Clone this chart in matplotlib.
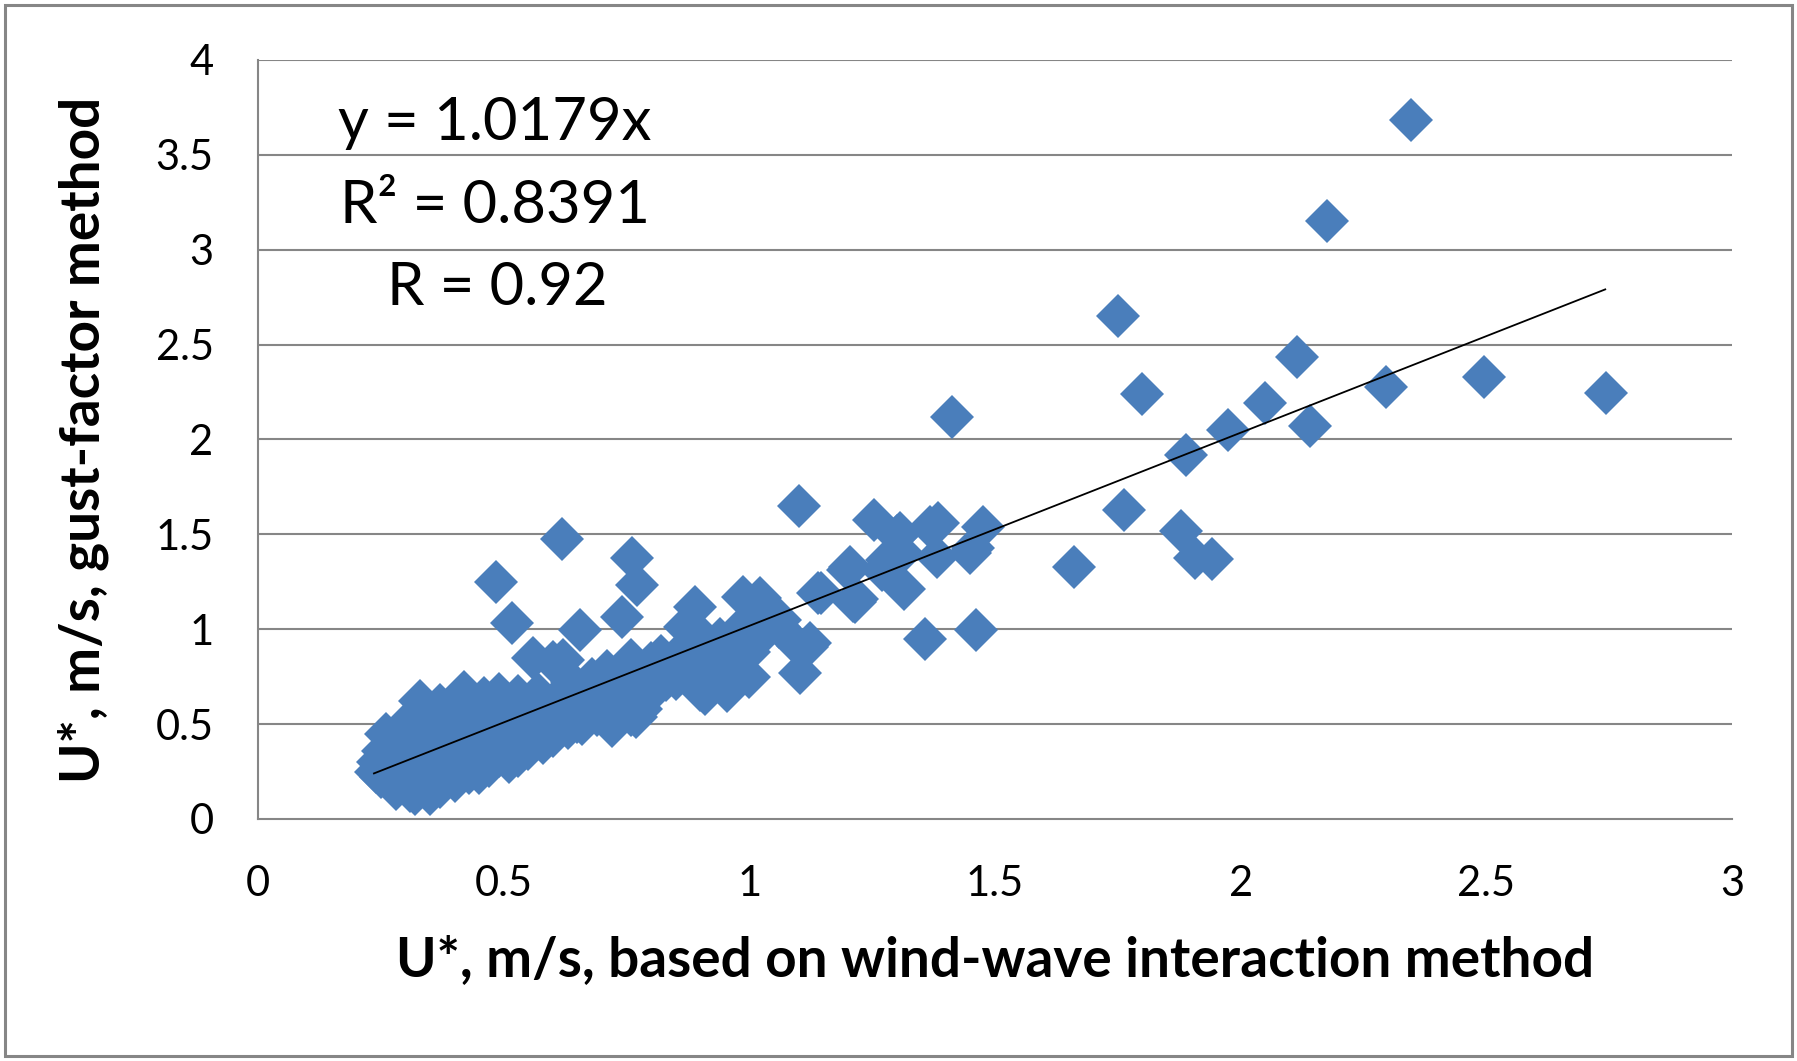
import matplotlib
matplotlib.use("Agg")
import matplotlib.pyplot as plt
from matplotlib.patches import Rectangle

plt.rcParams['font.family'] = ['Lato', 'DejaVu Sans']

# ---- data: U* wind-wave method (x) vs gust-factor method (y) ----
x_sparse = [2.346, 2.176, 1.751, 2.115, 2.295, 2.496, 2.743, 1.800, 2.050, 1.975,
            2.141, 1.889, 1.413, 1.763, 1.879, 1.907, 1.942, 1.660, 1.462, 1.357,
            1.102, 1.476, 1.455]
y_sparse = [3.686, 3.149, 2.649, 2.437, 2.275, 2.329, 2.244, 2.238, 2.190, 2.051,
            2.069, 1.918, 2.118, 1.629, 1.520, 1.376, 1.370, 1.327, 0.995, 0.947,
            1.647, 1.538, 1.430]

x_mid = [1.20, 1.205, 1.21, 1.22, 1.253, 1.27, 1.28, 1.30, 1.307, 1.31, 1.315,
         1.368, 1.385, 1.382, 1.45, 1.14, 1.145, 1.216, 1.063, 1.104, 1.117, 1.124,
         1.022, 1.06, 1.10]
y_mid = [1.31, 1.33, 1.15, 1.16, 1.576, 1.31, 1.365, 1.49, 1.506, 1.40, 1.21,
         1.54, 1.558, 1.382, 1.40, 1.19, 1.189, 1.145, 1.049, 0.768, 0.908, 0.926,
         1.165, 1.01, 0.91]

x_low = [0.485, 0.517, 0.618, 0.655, 0.740, 0.761, 0.771, 0.890, 0.988,
         0.24, 0.245, 0.25, 0.255, 0.26, 0.26, 0.27, 0.27, 0.28, 0.28, 0.285, 0.29, 0.29, 0.30, 0.30, 0.30,
         0.31, 0.31, 0.31, 0.32, 0.32, 0.33, 0.33, 0.33, 0.34, 0.34, 0.35, 0.35, 0.35, 0.36, 0.36,
         0.37, 0.37, 0.37, 0.38, 0.38, 0.39, 0.39, 0.40, 0.40, 0.40,
         0.41, 0.41, 0.42, 0.42, 0.43, 0.43, 0.44, 0.44, 0.45, 0.45, 0.46, 0.46, 0.47, 0.47,
         0.48, 0.48, 0.49, 0.49, 0.50, 0.50,
         0.51, 0.51, 0.52, 0.52, 0.53, 0.53, 0.54, 0.54, 0.55, 0.55, 0.56, 0.56, 0.57, 0.57,
         0.58, 0.58, 0.59, 0.60, 0.60, 0.60,
         0.61, 0.62, 0.62, 0.63, 0.63, 0.64, 0.65, 0.65, 0.66, 0.66, 0.67, 0.68, 0.68, 0.69,
         0.70, 0.70, 0.71, 0.71,
         0.72, 0.72, 0.73, 0.74, 0.75, 0.75, 0.76, 0.76, 0.77, 0.77, 0.78, 0.78, 0.79, 0.80, 0.80,
         0.81, 0.82, 0.82, 0.83, 0.84, 0.85, 0.86, 0.86, 0.87, 0.88, 0.88, 0.89, 0.90, 0.90, 0.90,
         0.91, 0.92, 0.92, 0.93, 0.94, 0.95, 0.954, 0.96, 0.97, 0.98, 0.99, 1.00, 1.00, 1.02, 1.03]
y_low = [1.251, 1.031, 1.474, 0.996, 1.066, 1.374, 1.233, 1.119, 1.170,
         0.25, 0.30, 0.22, 0.36, 0.45, 0.28, 0.20, 0.33, 0.16, 0.40, 0.26, 0.31, 0.22, 0.45, 0.18, 0.36,
         0.15, 0.27, 0.52, 0.13, 0.40, 0.62, 0.22, 0.33, 0.18, 0.48, 0.55, 0.28, 0.13, 0.38, 0.22,
         0.46, 0.60, 0.17, 0.30, 0.52, 0.24, 0.40, 0.58, 0.33, 0.20,
         0.45, 0.28, 0.67, 0.52, 0.24, 0.38, 0.60, 0.30, 0.46, 0.24, 0.64, 0.35, 0.53, 0.28,
         0.42, 0.60, 0.66, 0.33, 0.50, 0.38,
         0.60, 0.30, 0.44, 0.56, 0.33, 0.65, 0.48, 0.38, 0.58, 0.37, 0.85, 0.44, 0.66, 0.52,
         0.40, 0.60, 0.47, 0.61, 0.83, 0.44,
         0.53, 0.84, 0.66, 0.48, 0.58, 0.72, 0.51, 0.62, 0.68, 0.50, 0.56, 0.63, 0.74, 0.55,
         0.60, 0.70, 0.78, 0.52,
         0.49, 0.66, 0.58, 0.72, 0.62, 0.80, 0.84, 0.55, 0.54, 0.68, 0.58, 0.76, 0.64, 0.72, 0.82,
         0.74, 0.86, 0.76, 0.73, 0.80, 0.74, 0.88, 0.82, 1.01, 0.76, 0.92, 0.84, 0.68, 0.97, 0.78,
         0.66, 0.88, 0.74, 0.80, 0.95, 0.76, 0.676, 0.88, 0.82, 0.93, 1.02, 0.75, 0.88, 1.05, 0.98]

x_vals = x_low + x_mid + x_sparse
y_vals = y_low + y_mid + y_sparse

slope = 1.0179
trend_x = [0.236, 2.742]
eq_lines = ["y = 1.0179x", "R\u00b2 = 0.8391", "R = 0.92"]
x_ticks = [0, 0.5, 1, 1.5, 2, 2.5, 3]
y_ticks = [0, 0.5, 1, 1.5, 2, 2.5, 3, 3.5, 4]
x_label = "U*, m/s, based on wind-wave interaction method"
y_label = "U*, m/s, gust-factor method"

# ---- figure ----
W, H = 1797, 1061
fig = plt.figure(figsize=(W / 100, H / 100), dpi=100)
fig.patch.set_facecolor('white')
fig.patches.append(Rectangle((5 / W, 5 / H), (W - 10) / W, (H - 10) / H,
                             transform=fig.transFigure, fill=False,
                             edgecolor='#868686', linewidth=2.2))

L, R, T, B = 258, 1732, 60, 819
ax = fig.add_axes([L / W, (H - B) / H, (R - L) / W, (B - T) / H])
ax.set_xlim(0, 3)
ax.set_ylim(0, 4)

grid_c = '#868686'
for v in y_ticks[1:]:
    ax.axhline(v, color=grid_c, lw=1.5, zorder=0)
for s in ['top', 'right']:
    ax.spines[s].set_visible(False)
for s in ['left', 'bottom']:
    ax.spines[s].set_color(grid_c)
    ax.spines[s].set_linewidth(1.5)

ax.plot(x_vals, y_vals, linestyle='none', marker='D', ms=22.5,
        markerfacecolor='#4A7EBB', markeredgewidth=0, zorder=2)
ax.plot(trend_x, [slope * v for v in trend_x], color='black', lw=1.3, zorder=3)

ax.set_xticks(x_ticks)
ax.set_xticklabels([f"{v:g}" for v in x_ticks])
ax.set_yticks(y_ticks)
ax.set_yticklabels([f"{v:g}" for v in y_ticks])
ax.tick_params(axis='both', length=0, labelsize=30, colors='black')
ax.tick_params(axis='y', pad=32)
ax.tick_params(axis='x', pad=33)

ax.set_xlabel(x_label, fontsize=39.5, fontweight='bold')
ax.set_ylabel(y_label, fontsize=39.5, fontweight='bold')
ax.xaxis.set_label_coords(0.5, -0.153)
ax.yaxis.set_label_coords(-0.101, 0.5)

pos = [(0.054, 0.8946), (0.0556, 0.785), (0.0875, 0.677)]
for txt, (px, py) in zip(eq_lines, pos):
    ax.text(px, py, txt, transform=ax.transAxes, fontsize=43,
            ha='left', va='baseline', zorder=4)

fig.savefig("out.png", dpi=100, facecolor='white')
